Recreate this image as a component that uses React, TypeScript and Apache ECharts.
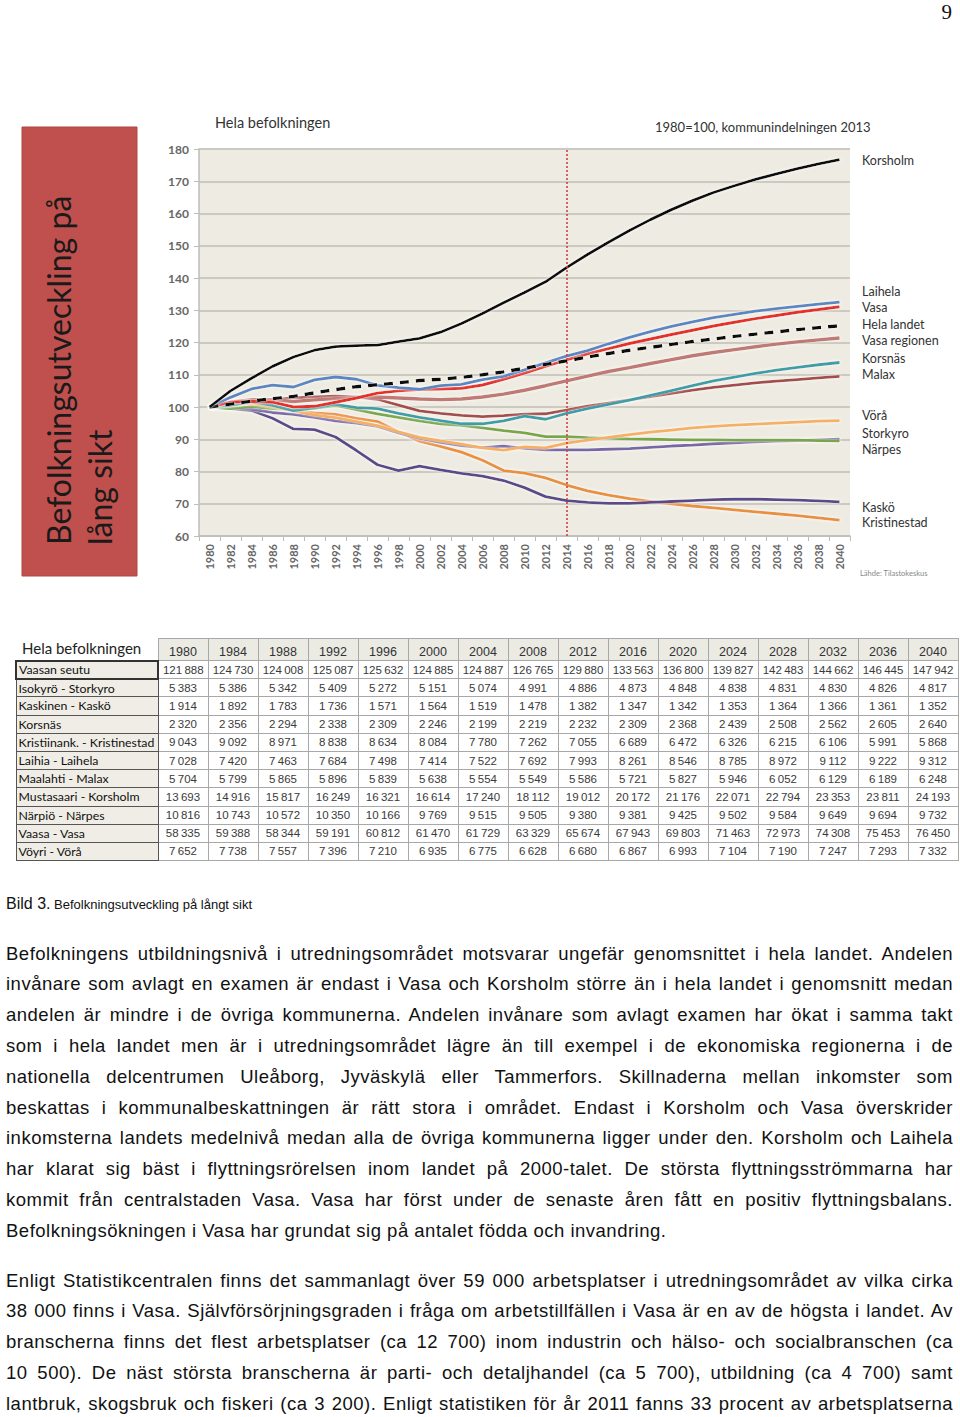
import React, { useEffect, useRef } from "react";
import * as echarts from "echarts";

// ---------- chart data (index 1980 = 100) ----------
const years = [
  "1980", "1982", "1984", "1986", "1988", "1990", "1992", "1994", "1996", "1998",
  "2000", "2002", "2004", "2006", "2008", "2010", "2012", "2014", "2016", "2018",
  "2020", "2022", "2024", "2026", "2028", "2030", "2032", "2034", "2036", "2038", "2040",
];

const korsholm = [100, 105.0, 108.9, 112.6, 115.5, 117.6, 118.7, 119.0, 119.2, 120.3, 121.3, 123.2, 125.9, 129.0, 132.3, 135.5, 138.8, 143.2, 147.3, 151.1, 154.7, 158.1, 161.2, 164.0, 166.5, 168.6, 170.6, 172.3, 173.9, 175.4, 176.7];
const laihela = [100, 103.0, 105.6, 106.8, 106.2, 108.4, 109.3, 108.6, 106.7, 106.0, 105.5, 106.6, 107.0, 108.5, 109.5, 111.5, 113.7, 115.8, 117.5, 119.6, 121.6, 123.4, 125.0, 126.4, 127.7, 128.7, 129.7, 130.5, 131.2, 131.9, 132.5];
const vasa = [100, 101.5, 101.8, 101.5, 100.0, 100.2, 101.5, 102.8, 104.3, 105.0, 105.4, 105.6, 105.8, 106.8, 108.6, 110.5, 112.6, 114.6, 116.5, 118.1, 119.7, 121.1, 122.5, 123.8, 125.1, 126.3, 127.4, 128.4, 129.4, 130.2, 131.1];
const helaLandet = [100, 100.9, 101.8, 102.6, 103.3, 104.4, 105.4, 106.3, 106.9, 107.5, 108.2, 108.6, 109.2, 110.0, 110.9, 112.0, 113.2, 114.3, 115.5, 116.6, 117.6, 118.5, 119.4, 120.3, 121.1, 121.9, 122.6, 123.3, 124.0, 124.6, 125.2];
const vasaRegionen = [100, 101.5, 102.3, 102.2, 101.7, 102.2, 102.6, 103.0, 103.1, 102.8, 102.5, 102.3, 102.5, 103.1, 104.0, 105.2, 106.6, 108.1, 109.6, 111.0, 112.2, 113.5, 114.7, 115.9, 116.9, 117.8, 118.7, 119.5, 120.2, 120.8, 121.4];
const korsnas = [100, 100.5, 101.6, 100.5, 98.9, 99.7, 100.8, 99.8, 99.5, 98.0, 96.8, 95.8, 94.8, 94.8, 95.7, 97.2, 96.2, 98.0, 99.5, 100.8, 102.1, 103.6, 105.1, 106.6, 108.1, 109.3, 110.4, 111.4, 112.3, 113.1, 113.8];
const malax = [100, 101.0, 101.7, 102.3, 102.8, 103.1, 103.4, 103.1, 102.4, 100.6, 98.8, 98.0, 97.4, 97.0, 97.3, 97.8, 97.9, 99.0, 100.3, 101.2, 102.2, 103.2, 104.2, 105.2, 106.1, 106.8, 107.5, 108.0, 108.5, 109.0, 109.5];
const vora = [100, 100.8, 101.1, 100.0, 98.8, 97.5, 96.7, 95.5, 94.2, 92.3, 90.6, 89.5, 88.5, 87.3, 86.6, 87.6, 87.3, 88.8, 89.7, 90.6, 91.4, 92.2, 92.8, 93.5, 94.0, 94.4, 94.7, 95.0, 95.3, 95.6, 95.8];
const storkyro = [100, 99.5, 100.1, 99.5, 99.2, 99.6, 100.5, 99.2, 97.9, 96.8, 95.7, 94.8, 94.3, 93.5, 92.7, 92.0, 90.8, 90.8, 90.5, 90.3, 90.1, 90.0, 89.9, 89.8, 89.8, 89.7, 89.7, 89.7, 89.7, 89.6, 89.5];
const narpes = [100, 99.8, 99.3, 98.3, 97.7, 96.8, 95.7, 95.0, 94.0, 92.0, 90.3, 89.0, 88.0, 87.4, 87.9, 87.2, 86.7, 86.7, 86.7, 86.9, 87.1, 87.5, 87.9, 88.2, 88.6, 88.9, 89.2, 89.4, 89.6, 89.8, 90.0];
const kasko = [100, 99.5, 98.9, 96.5, 93.2, 93.0, 90.7, 86.5, 82.1, 80.3, 81.7, 80.5, 79.4, 78.6, 77.2, 75.0, 72.2, 71.0, 70.4, 70.1, 70.1, 70.4, 70.7, 71.0, 71.3, 71.4, 71.4, 71.3, 71.1, 70.9, 70.6];
const kristinestad = [100, 100.5, 100.5, 99.9, 99.2, 98.2, 97.7, 96.5, 95.5, 92.3, 89.4, 87.8, 86.0, 83.5, 80.3, 79.5, 78.0, 75.8, 74.0, 72.7, 71.6, 70.7, 70.0, 69.3, 68.7, 68.1, 67.5, 66.9, 66.3, 65.6, 64.9];

const yTicks = { min: 60, max: 180, interval: 10 };

const rightLabels = [
  "Korsholm", "Laihela", "Vasa", "Hela landet", "Vasa regionen", "Korsnäs",
  "Malax", "Vörå", "Storkyro", "Närpes", "Kaskö", "Kristinestad",
];

// ---------- table data ----------
const tableYears = [1980, 1984, 1988, 1992, 1996, 2000, 2004, 2008, 2012, 2016, 2020, 2024, 2028, 2032, 2036, 2040];
const tableNames = [
  "Vaasan seutu", "Isokyrö - Storkyro", "Kaskinen - Kaskö", "Korsnäs",
  "Kristiinank. - Kristinestad", "Laihia - Laihela", "Maalahti - Malax",
  "Mustasaari - Korsholm", "Närpiö - Närpes", "Vaasa - Vasa", "Vöyri - Vörå",
];
const tVaasanSeutu = [121888, 124730, 124008, 125087, 125632, 124885, 124887, 126765, 129880, 133563, 136800, 139827, 142483, 144662, 146445, 147942];
const tStorkyro = [5383, 5386, 5342, 5409, 5272, 5151, 5074, 4991, 4886, 4873, 4848, 4838, 4831, 4830, 4826, 4817];
const tKasko = [1914, 1892, 1783, 1736, 1571, 1564, 1519, 1478, 1382, 1347, 1342, 1353, 1364, 1366, 1361, 1352];
const tKorsnas = [2320, 2356, 2294, 2338, 2309, 2246, 2199, 2219, 2232, 2309, 2368, 2439, 2508, 2562, 2605, 2640];
const tKristinestad = [9043, 9092, 8971, 8838, 8634, 8084, 7780, 7262, 7055, 6689, 6472, 6326, 6215, 6106, 5991, 5868];
const tLaihela = [7028, 7420, 7463, 7684, 7498, 7414, 7522, 7692, 7993, 8261, 8546, 8785, 8972, 9112, 9222, 9312];
const tMalax = [5704, 5799, 5865, 5896, 5839, 5638, 5554, 5549, 5586, 5721, 5827, 5946, 6052, 6129, 6189, 6248];
const tKorsholm = [13693, 14916, 15817, 16249, 16321, 16614, 17240, 18112, 19012, 20172, 21176, 22071, 22794, 23353, 23811, 24193];
const tNarpes = [10816, 10743, 10572, 10350, 10166, 9769, 9515, 9505, 9380, 9381, 9425, 9502, 9584, 9649, 9694, 9732];
const tVasa = [58335, 59388, 58344, 59191, 60812, 61470, 61729, 63329, 65674, 67943, 69803, 71463, 72973, 74308, 75453, 76450];
const tVora = [7652, 7738, 7557, 7396, 7210, 6935, 6775, 6628, 6680, 6867, 6993, 7104, 7190, 7247, 7293, 7332];
const tableRows = [tVaasanSeutu, tStorkyro, tKasko, tKorsnas, tKristinestad, tLaihela, tMalax, tKorsholm, tNarpes, tVasa, tVora];

// ---------- body text ----------
const para1 = [
  "Befolkningens utbildningsnivå i utredningsområdet motsvarar ungefär genomsnittet i hela landet. Andelen",
  "invånare som avlagt en examen är endast i Vasa och Korsholm större än i hela landet i genomsnitt medan",
  "andelen är mindre i de övriga kommunerna. Andelen invånare som avlagt examen har ökat i samma takt",
  "som i hela landet men är i utredningsområdet lägre än till exempel i de ekonomiska regionerna i de",
  "nationella delcentrumen Uleåborg, Jyväskylä eller Tammerfors. Skillnaderna mellan inkomster som",
  "beskattas i kommunalbeskattningen är rätt stora i området. Endast i Korsholm och Vasa överskrider",
  "inkomsterna landets medelnivå medan alla de övriga kommunerna ligger under den. Korsholm och Laihela",
  "har klarat sig bäst i flyttningsrörelsen inom landet på 2000-talet. De största flyttningsströmmarna har",
  "kommit från centralstaden Vasa. Vasa har först under de senaste åren fått en positiv flyttningsbalans.",
  "Befolkningsökningen i Vasa har grundat sig på antalet födda och invandring.",
];
const para2 = [
  "Enligt Statistikcentralen finns det sammanlagt över 59 000 arbetsplatser i utredningsområdet av vilka cirka",
  "38 000 finns i Vasa. Självförsörjningsgraden i fråga om arbetstillfällen i Vasa är en av de högsta i landet. Av",
  "branscherna finns det flest arbetsplatser (ca 12 700) inom industrin och hälso- och socialbranschen (ca",
  "10 500). De näst största branscherna är parti- och detaljhandel (ca 5 700), utbildning (ca 4 700) samt",
  "lantbruk, skogsbruk och fiskeri (ca 3 200). Enligt statistiken för år 2011 fanns 33 procent av arbetsplatserna",
];

const fmt = (n: number) => {
  const s = String(n);
  return s.length > 3 ? s.slice(0, s.length - 3) + "\u2009" + s.slice(s.length - 3) : s;
};

function line(name: string, data: number[], color: string, width = 2.8, z = 2, dashed = false): any {
  return {
    type: "line",
    name,
    data,
    symbol: "none",
    silent: true,
    z,
    lineStyle: {
      color,
      width,
      type: dashed ? [9, 7] : "solid",
      shadowColor: "rgba(255,255,255,0.95)",
      shadowBlur: 3,
    },
    itemStyle: { color },
  };
}

function Chart() {
  const ref = useRef<HTMLDivElement>(null);
  useEffect(() => {
    if (!ref.current) return;
    const chart = echarts.init(ref.current, undefined, { renderer: "svg" });
    const labelYs = [160, 291, 307, 324, 340, 358, 374, 415, 433, 449, 507, 522];
    const series: any[] = [
      line("Kristinestad", kristinestad, "#E9903C"),
      line("Kaskö", kasko, "#5C4A8A"),
      line("Närpes", narpes, "#7A66A6"),
      line("Storkyro", storkyro, "#7AA647"),
      line("Vörå", vora, "#F5B062"),
      line("Malax", malax, "#A44E4C"),
      line("Korsnäs", korsnas, "#3D9EA8"),
      line("Vasa regionen", vasaRegionen, "#C07A74", 3.4),
      line("Vasa", vasa, "#E2322B", 3, 3),
      line("Laihela", laihela, "#5A86C2", 2.8, 3),
      line("Hela landet", helaLandet, "#111111", 3.4, 4, true),
      line("Korsholm", korsholm, "#111111", 2.8, 4),
    ];
    series[0].markLine = {
      silent: true,
      symbol: "none",
      label: { show: false },
      lineStyle: { color: "#D0413C", type: [2, 2], width: 1.6 },
      data: [{ xAxis: "2014" }],
    };
    chart.setOption({
      animation: false,
      grid: {
        left: 199, right: 110, top: 149, bottom: 84,
        show: true, backgroundColor: "#EEECE2", borderWidth: 0,
      },
      xAxis: {
        type: "category",
        data: years,
        boundaryGap: true,
        axisLine: { show: true, lineStyle: { color: "#BDBDBD", width: 1.5 } },
        axisTick: { show: true, length: 5, lineStyle: { color: "#BDBDBD" } },
        axisLabel: {
          rotate: 90, interval: 0, margin: 8,
          color: "#666", fontSize: 11, fontWeight: "bold", fontFamily: "Lato",
        },
        splitLine: { show: false },
      },
      yAxis: {
        type: "value",
        min: yTicks.min, max: yTicks.max, interval: yTicks.interval,
        axisLine: { show: true, lineStyle: { color: "#BDBDBD", width: 1.5 } },
        axisTick: { show: true, length: 5, lineStyle: { color: "#BDBDBD" } },
        axisLabel: { color: "#666", fontSize: 12, fontWeight: "bold", fontFamily: "Lato", margin: 10 },
        splitLine: { show: true, lineStyle: { color: "#CBC9C0", width: 2 } },
      },
      series,
      graphic: [
        { type: "rect", shape: { x: 22, y: 127, width: 115, height: 449 }, style: { fill: "#C0504D", stroke: "#B24643", lineWidth: 1 } },
        {
          type: "text", x: 58, y: 545, rotation: Math.PI / 2,
          style: { text: "Befolkningsutveckling på", fill: "#1A1A1A", font: "32px Lato", textAlign: "left", textVerticalAlign: "middle" },
        },
        {
          type: "text", x: 99, y: 545, rotation: Math.PI / 2,
          style: { text: "lång sikt", fill: "#1A1A1A", font: "32px Lato", textAlign: "left", textVerticalAlign: "middle" },
        },
        {
          type: "text", x: 215, y: 122,
          style: { text: "Hela befolkningen", fill: "#333", font: "14.5px Lato", textAlign: "left", textVerticalAlign: "middle" },
        },
        {
          type: "text", x: 655, y: 127,
          style: { text: "1980=100, kommunindelningen 2013", fill: "#333", font: "13px Lato", textAlign: "left", textVerticalAlign: "middle" },
        },
        ...rightLabels.map((t, i) => ({
          type: "text", x: 862, y: labelYs[i],
          style: { text: t, fill: "#333", font: "12.5px Lato", textAlign: "left", textVerticalAlign: "middle" },
        })),
        {
          type: "text", x: 860, y: 573,
          style: { text: "Lähde: Tilastokeskus", fill: "#888", font: "7.5px Lato", textAlign: "left", textVerticalAlign: "middle" },
        },
      ],
    });
    return () => chart.dispose();
  }, []);
  return <div ref={ref} style={{ position: "absolute", left: 0, top: 0, width: 960, height: 620 }} />;
}

function Table() {
  const border = "1px solid #A8A8A8";
  const numCell: React.CSSProperties = {
    border,
    textAlign: "center",
    fontFamily: "'Liberation Sans Narrow', 'Arial Narrow', sans-serif",
    fontSize: 11.5,
    color: "#3A3A3A",
    padding: 0,
    background: "#FFFFFF",
  };
  return (
    <div style={{ position: "absolute", left: 15, top: 638, width: 942 }}>
      <table style={{ borderCollapse: "collapse", tableLayout: "fixed", width: 942 }}>
        <colgroup>
          <col style={{ width: 142 }} />
          {tableYears.map((y) => (
            <col key={y} style={{ width: 50 }} />
          ))}
        </colgroup>
        <tbody>
          <tr style={{ height: 22 }}>
            <td style={{ fontFamily: "Lato", fontSize: 15, color: "#222", padding: "0 0 0 6px", whiteSpace: "nowrap", verticalAlign: "top" }}>
              Hela befolkningen
            </td>
            {tableYears.map((y) => (
              <td key={y} style={{ ...numCell, background: "#EBEAE3", fontSize: 12.5, color: "#333", verticalAlign: "bottom", paddingBottom: 1 }}>
                {y}
              </td>
            ))}
          </tr>
          {tableNames.map((n, r) => (
            <tr key={n} style={{ height: 18.2 }}>
              <td
                style={{
                  fontFamily: "Lato",
                  fontSize: 12.3,
                  color: "#111",
                  background: "#EFEDE5",
                  border: r === 0 ? "2px solid #333" : "1px solid #555",
                  padding: "0 0 0 2px",
                  whiteSpace: "nowrap",
                  overflow: "hidden",
                }}
              >
                {n}
              </td>
              {tableRows[r].map((v, c) => (
                <td key={c} style={numCell}>
                  {fmt(v)}
                </td>
              ))}
            </tr>
          ))}
        </tbody>
      </table>
    </div>
  );
}

function TextBlock({ lines, top, lastJustified }: { lines: string[]; top: number; lastJustified: boolean }) {
  return (
    <div style={{ position: "absolute", left: 6, top, width: 947 }}>
      {lines.map((l, i) => {
        const justify = i < lines.length - 1 || lastJustified;
        return (
          <div
            key={i}
            style={{
              height: 30.8,
              lineHeight: "30.8px",
              fontFamily: "'Liberation Sans', Arial, sans-serif",
              fontSize: 18.5,
              letterSpacing: 0.5,
              color: "#111",
              whiteSpace: "nowrap",
              textAlign: justify ? "justify" : "left",
              textAlignLast: justify ? "justify" : "left",
            }}
          >
            {l}
          </div>
        );
      })}
    </div>
  );
}

export default function App() {
  return (
    <div style={{ position: "absolute", left: 0, top: 0, width: 960, height: 1417, background: "#fff", overflow: "hidden" }}>
      <div style={{ position: "absolute", right: 8, top: 0, fontFamily: "'Liberation Serif', serif", fontSize: 21, color: "#111" }}>9</div>
      <Chart />
      <Table />
      <div style={{ position: "absolute", left: 6, top: 895, fontFamily: "'Liberation Sans', Arial, sans-serif", color: "#111", whiteSpace: "nowrap" }}>
        <span style={{ fontSize: 16 }}>Bild 3.</span>
        <span style={{ fontSize: 13 }}> Befolkningsutveckling på långt sikt</span>
      </div>
      <TextBlock lines={para1} top={938.6} lastJustified={false} />
      <TextBlock lines={para2} top={1265.6} lastJustified={true} />
    </div>
  );
}
